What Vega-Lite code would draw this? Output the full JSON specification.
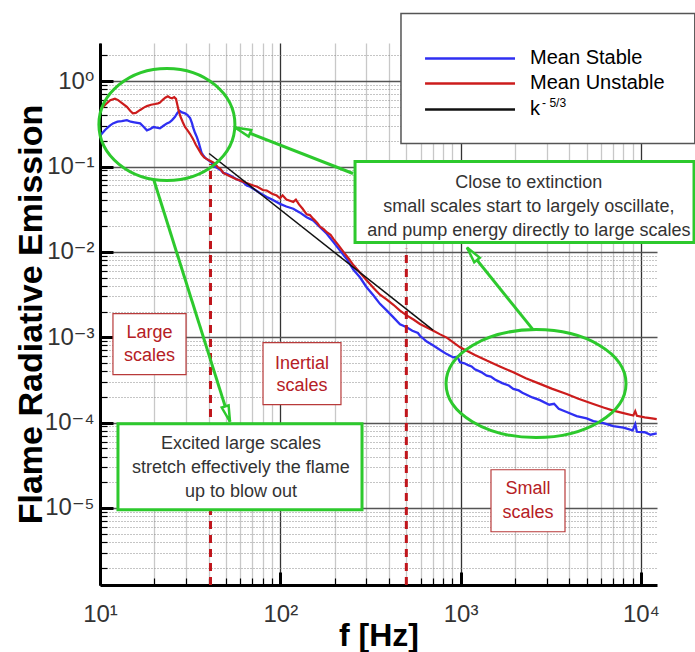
{
  "$schema": "https://vega.github.io/schema/vega-lite/v6.json",
  "width": 557,
  "height": 542,
  "autosize": {"type": "none"},
  "padding": {"left": 100, "top": 43, "right": 38, "bottom": 67},
  "config": {"view": {"stroke": null}, "font": "Liberation Sans"},
  "datasets": {
    "curves": [
      {"series": "Mean Stable", "f": 10, "e": 0.23}, {"series": "Mean Stable", "f": 10.7, "e": 0.27}, {"series": "Mean Stable", "f": 11.3, "e": 0.30}, {"series": "Mean Stable", "f": 11.8, "e": 0.32}, {"series": "Mean Stable", "f": 12.5, "e": 0.335}, {"series": "Mean Stable", "f": 13.2, "e": 0.34}, {"series": "Mean Stable", "f": 14.1, "e": 0.35}, {"series": "Mean Stable", "f": 14.8, "e": 0.335}, {"series": "Mean Stable", "f": 15.5, "e": 0.33}, {"series": "Mean Stable", "f": 16.7, "e": 0.32}, {"series": "Mean Stable", "f": 17.5, "e": 0.29}, {"series": "Mean Stable", "f": 18.2, "e": 0.265}, {"series": "Mean Stable", "f": 19.0, "e": 0.275}, {"series": "Mean Stable", "f": 19.8, "e": 0.29}, {"series": "Mean Stable", "f": 20.6, "e": 0.285}, {"series": "Mean Stable", "f": 21.5, "e": 0.28}, {"series": "Mean Stable", "f": 22.5, "e": 0.30}, {"series": "Mean Stable", "f": 23.5, "e": 0.32}, {"series": "Mean Stable", "f": 24.3, "e": 0.33}, {"series": "Mean Stable", "f": 25.1, "e": 0.35}, {"series": "Mean Stable", "f": 26.0, "e": 0.38}, {"series": "Mean Stable", "f": 26.8, "e": 0.42}, {"series": "Mean Stable", "f": 27.6, "e": 0.45}, {"series": "Mean Stable", "f": 28.5, "e": 0.43}, {"series": "Mean Stable", "f": 29.6, "e": 0.42}, {"series": "Mean Stable", "f": 30.6, "e": 0.40}, {"series": "Mean Stable", "f": 31.6, "e": 0.37}, {"series": "Mean Stable", "f": 32.4, "e": 0.32}, {"series": "Mean Stable", "f": 32.8, "e": 0.29}, {"series": "Mean Stable", "f": 33.6, "e": 0.25}, {"series": "Mean Stable", "f": 34.5, "e": 0.22}, {"series": "Mean Stable", "f": 35.3, "e": 0.19}, {"series": "Mean Stable", "f": 35.9, "e": 0.167}, {"series": "Mean Stable", "f": 36.6, "e": 0.145}, {"series": "Mean Stable", "f": 37.3, "e": 0.136}, {"series": "Mean Stable", "f": 38.5, "e": 0.125}, {"series": "Mean Stable", "f": 40.0, "e": 0.118}, {"series": "Mean Stable", "f": 41.5, "e": 0.112}, {"series": "Mean Stable", "f": 42.5, "e": 0.103}, {"series": "Mean Stable", "f": 44.0, "e": 0.098}, {"series": "Mean Stable", "f": 45.5, "e": 0.094}, {"series": "Mean Stable", "f": 47.0, "e": 0.090}, {"series": "Mean Stable", "f": 48.3, "e": 0.084}, {"series": "Mean Stable", "f": 50.4, "e": 0.082}, {"series": "Mean Stable", "f": 53, "e": 0.078}, {"series": "Mean Stable", "f": 56, "e": 0.073}, {"series": "Mean Stable", "f": 59.8, "e": 0.068}, {"series": "Mean Stable", "f": 62, "e": 0.066}, {"series": "Mean Stable", "f": 65.1, "e": 0.060}, {"series": "Mean Stable", "f": 68, "e": 0.058}, {"series": "Mean Stable", "f": 70.8, "e": 0.055}, {"series": "Mean Stable", "f": 77, "e": 0.049}, {"series": "Mean Stable", "f": 84.1, "e": 0.044}, {"series": "Mean Stable", "f": 90, "e": 0.041}, {"series": "Mean Stable", "f": 99.6, "e": 0.0365}, {"series": "Mean Stable", "f": 108, "e": 0.034}, {"series": "Mean Stable", "f": 118, "e": 0.032}, {"series": "Mean Stable", "f": 128, "e": 0.029}, {"series": "Mean Stable", "f": 140, "e": 0.0255}, {"series": "Mean Stable", "f": 152, "e": 0.0233}, {"series": "Mean Stable", "f": 166, "e": 0.0195}, {"series": "Mean Stable", "f": 181, "e": 0.0163}, {"series": "Mean Stable", "f": 197, "e": 0.0130}, {"series": "Mean Stable", "f": 214, "e": 0.0104}, {"series": "Mean Stable", "f": 234, "e": 0.0082}, {"series": "Mean Stable", "f": 254, "e": 0.0062}, {"series": "Mean Stable", "f": 277, "e": 0.0050}, {"series": "Mean Stable", "f": 301, "e": 0.00385}, {"series": "Mean Stable", "f": 328, "e": 0.0031}, {"series": "Mean Stable", "f": 357, "e": 0.00246}, {"series": "Mean Stable", "f": 390, "e": 0.00205}, {"series": "Mean Stable", "f": 424, "e": 0.00171}, {"series": "Mean Stable", "f": 461, "e": 0.00142}, {"series": "Mean Stable", "f": 502, "e": 0.00131}, {"series": "Mean Stable", "f": 540, "e": 0.00119}, {"series": "Mean Stable", "f": 580, "e": 0.00112}, {"series": "Mean Stable", "f": 595, "e": 0.00104}, {"series": "Mean Stable", "f": 649, "e": 0.00089}, {"series": "Mean Stable", "f": 706, "e": 0.00080}, {"series": "Mean Stable", "f": 770, "e": 0.00071}, {"series": "Mean Stable", "f": 838, "e": 0.000634}, {"series": "Mean Stable", "f": 910, "e": 0.00058}, {"series": "Mean Stable", "f": 960, "e": 0.00059}, {"series": "Mean Stable", "f": 993, "e": 0.000508}, {"series": "Mean Stable", "f": 1050, "e": 0.000495}, {"series": "Mean Stable", "f": 1100, "e": 0.00047}, {"series": "Mean Stable", "f": 1150, "e": 0.000455}, {"series": "Mean Stable", "f": 1200, "e": 0.00042}, {"series": "Mean Stable", "f": 1300, "e": 0.00039}, {"series": "Mean Stable", "f": 1396, "e": 0.000355}, {"series": "Mean Stable", "f": 1470, "e": 0.000345}, {"series": "Mean Stable", "f": 1550, "e": 0.00032}, {"series": "Mean Stable", "f": 1700, "e": 0.00029}, {"series": "Mean Stable", "f": 1850, "e": 0.000272}, {"series": "Mean Stable", "f": 1960, "e": 0.000248}, {"series": "Mean Stable", "f": 2100, "e": 0.000238}, {"series": "Mean Stable", "f": 2200, "e": 0.000224}, {"series": "Mean Stable", "f": 2500, "e": 0.000197}, {"series": "Mean Stable", "f": 2754, "e": 0.000183}, {"series": "Mean Stable", "f": 3100, "e": 0.000162}, {"series": "Mean Stable", "f": 3300, "e": 0.000166}, {"series": "Mean Stable", "f": 3500, "e": 0.000145}, {"series": "Mean Stable", "f": 3873, "e": 0.000133}, {"series": "Mean Stable", "f": 4400, "e": 0.000119}, {"series": "Mean Stable", "f": 5000, "e": 0.000112}, {"series": "Mean Stable", "f": 5445, "e": 0.000104}, {"series": "Mean Stable", "f": 6200, "e": 0.0000985}, {"series": "Mean Stable", "f": 7030, "e": 0.000091}, {"series": "Mean Stable", "f": 8000, "e": 0.000087}, {"series": "Mean Stable", "f": 9000, "e": 0.000081}, {"series": "Mean Stable", "f": 9300, "e": 0.000096}, {"series": "Mean Stable", "f": 9500, "e": 0.000078}, {"series": "Mean Stable", "f": 10500, "e": 0.000077}, {"series": "Mean Stable", "f": 11300, "e": 0.000072}, {"series": "Mean Stable", "f": 12240, "e": 0.0000745},
      {"series": "Mean Unstable", "f": 10, "e": 0.47}, {"series": "Mean Unstable", "f": 10.4, "e": 0.50}, {"series": "Mean Unstable", "f": 10.8, "e": 0.54}, {"series": "Mean Unstable", "f": 11.4, "e": 0.60}, {"series": "Mean Unstable", "f": 12.1, "e": 0.625}, {"series": "Mean Unstable", "f": 12.6, "e": 0.60}, {"series": "Mean Unstable", "f": 13.3, "e": 0.55}, {"series": "Mean Unstable", "f": 14.1, "e": 0.50}, {"series": "Mean Unstable", "f": 14.7, "e": 0.45}, {"series": "Mean Unstable", "f": 15.2, "e": 0.42}, {"series": "Mean Unstable", "f": 15.8, "e": 0.425}, {"series": "Mean Unstable", "f": 16.7, "e": 0.46}, {"series": "Mean Unstable", "f": 17.5, "e": 0.49}, {"series": "Mean Unstable", "f": 18.2, "e": 0.51}, {"series": "Mean Unstable", "f": 19.2, "e": 0.53}, {"series": "Mean Unstable", "f": 20.2, "e": 0.54}, {"series": "Mean Unstable", "f": 21.0, "e": 0.55}, {"series": "Mean Unstable", "f": 21.5, "e": 0.56}, {"series": "Mean Unstable", "f": 22.2, "e": 0.60}, {"series": "Mean Unstable", "f": 23.0, "e": 0.64}, {"series": "Mean Unstable", "f": 23.8, "e": 0.665}, {"series": "Mean Unstable", "f": 24.5, "e": 0.64}, {"series": "Mean Unstable", "f": 25.1, "e": 0.63}, {"series": "Mean Unstable", "f": 25.8, "e": 0.65}, {"series": "Mean Unstable", "f": 26.4, "e": 0.62}, {"series": "Mean Unstable", "f": 26.9, "e": 0.52}, {"series": "Mean Unstable", "f": 27.3, "e": 0.45}, {"series": "Mean Unstable", "f": 28.0, "e": 0.38}, {"series": "Mean Unstable", "f": 28.8, "e": 0.33}, {"series": "Mean Unstable", "f": 29.6, "e": 0.29}, {"series": "Mean Unstable", "f": 30.6, "e": 0.265}, {"series": "Mean Unstable", "f": 31.6, "e": 0.24}, {"series": "Mean Unstable", "f": 32.8, "e": 0.21}, {"series": "Mean Unstable", "f": 34.0, "e": 0.18}, {"series": "Mean Unstable", "f": 35.3, "e": 0.158}, {"series": "Mean Unstable", "f": 36.5, "e": 0.14}, {"series": "Mean Unstable", "f": 37.8, "e": 0.128}, {"series": "Mean Unstable", "f": 39.2, "e": 0.122}, {"series": "Mean Unstable", "f": 40.7, "e": 0.117}, {"series": "Mean Unstable", "f": 42.0, "e": 0.113}, {"series": "Mean Unstable", "f": 43.4, "e": 0.108}, {"series": "Mean Unstable", "f": 45, "e": 0.098}, {"series": "Mean Unstable", "f": 46.5, "e": 0.094}, {"series": "Mean Unstable", "f": 48.3, "e": 0.084}, {"series": "Mean Unstable", "f": 50.5, "e": 0.080}, {"series": "Mean Unstable", "f": 54, "e": 0.075}, {"series": "Mean Unstable", "f": 57, "e": 0.071}, {"series": "Mean Unstable", "f": 59.8, "e": 0.0685}, {"series": "Mean Unstable", "f": 65, "e": 0.064}, {"series": "Mean Unstable", "f": 70.8, "e": 0.060}, {"series": "Mean Unstable", "f": 75, "e": 0.0575}, {"series": "Mean Unstable", "f": 80, "e": 0.053}, {"series": "Mean Unstable", "f": 84.1, "e": 0.0524}, {"series": "Mean Unstable", "f": 90, "e": 0.048}, {"series": "Mean Unstable", "f": 95.5, "e": 0.0457}, {"series": "Mean Unstable", "f": 99.6, "e": 0.0425}, {"series": "Mean Unstable", "f": 103, "e": 0.046}, {"series": "Mean Unstable", "f": 108, "e": 0.041}, {"series": "Mean Unstable", "f": 112, "e": 0.040}, {"series": "Mean Unstable", "f": 118, "e": 0.0385}, {"series": "Mean Unstable", "f": 122, "e": 0.041}, {"series": "Mean Unstable", "f": 127, "e": 0.036}, {"series": "Mean Unstable", "f": 133, "e": 0.032}, {"series": "Mean Unstable", "f": 140, "e": 0.0275}, {"series": "Mean Unstable", "f": 146, "e": 0.027}, {"series": "Mean Unstable", "f": 152, "e": 0.0245}, {"series": "Mean Unstable", "f": 160, "e": 0.022}, {"series": "Mean Unstable", "f": 166, "e": 0.0198}, {"series": "Mean Unstable", "f": 174, "e": 0.0185}, {"series": "Mean Unstable", "f": 181, "e": 0.0170}, {"series": "Mean Unstable", "f": 190, "e": 0.0158}, {"series": "Mean Unstable", "f": 197, "e": 0.0142}, {"series": "Mean Unstable", "f": 210, "e": 0.0120}, {"series": "Mean Unstable", "f": 224, "e": 0.0100}, {"series": "Mean Unstable", "f": 240, "e": 0.0083}, {"series": "Mean Unstable", "f": 254, "e": 0.0070}, {"series": "Mean Unstable", "f": 277, "e": 0.0057}, {"series": "Mean Unstable", "f": 301, "e": 0.00465}, {"series": "Mean Unstable", "f": 328, "e": 0.0038}, {"series": "Mean Unstable", "f": 357, "e": 0.00315}, {"series": "Mean Unstable", "f": 390, "e": 0.00275}, {"series": "Mean Unstable", "f": 424, "e": 0.00240}, {"series": "Mean Unstable", "f": 461, "e": 0.00205}, {"series": "Mean Unstable", "f": 502, "e": 0.00180}, {"series": "Mean Unstable", "f": 550, "e": 0.00160}, {"series": "Mean Unstable", "f": 595, "e": 0.00143}, {"series": "Mean Unstable", "f": 650, "e": 0.00130}, {"series": "Mean Unstable", "f": 706, "e": 0.00119}, {"series": "Mean Unstable", "f": 770, "e": 0.00108}, {"series": "Mean Unstable", "f": 838, "e": 0.00099}, {"series": "Mean Unstable", "f": 993, "e": 0.000762}, {"series": "Mean Unstable", "f": 1200, "e": 0.00062}, {"series": "Mean Unstable", "f": 1396, "e": 0.000532}, {"series": "Mean Unstable", "f": 1650, "e": 0.000455}, {"series": "Mean Unstable", "f": 1960, "e": 0.000388}, {"series": "Mean Unstable", "f": 2300, "e": 0.000330}, {"series": "Mean Unstable", "f": 2754, "e": 0.000284}, {"series": "Mean Unstable", "f": 3200, "e": 0.000250}, {"series": "Mean Unstable", "f": 3873, "e": 0.000216}, {"series": "Mean Unstable", "f": 4500, "e": 0.000190}, {"series": "Mean Unstable", "f": 5445, "e": 0.000165}, {"series": "Mean Unstable", "f": 6200, "e": 0.000150}, {"series": "Mean Unstable", "f": 7030, "e": 0.000138}, {"series": "Mean Unstable", "f": 8000, "e": 0.000129}, {"series": "Mean Unstable", "f": 9078, "e": 0.000121}, {"series": "Mean Unstable", "f": 9300, "e": 0.000136}, {"series": "Mean Unstable", "f": 9500, "e": 0.000120}, {"series": "Mean Unstable", "f": 10500, "e": 0.000115}, {"series": "Mean Unstable", "f": 11500, "e": 0.000112}, {"series": "Mean Unstable", "f": 12240, "e": 0.000110}
    ]
  },
  "layer": [
    {
      "data": {"name": "curves"},
      "transform": [{"filter": "datum.series == 'Mean Stable'"}],
      "mark": {"type": "line", "strokeWidth": 2.3, "clip": true},
      "encoding": {
        "x": {
          "field": "f", "type": "quantitative",
          "scale": {"type": "log", "domain": [10, 12280], "nice": false},
          "axis": {
            "values": [10, 20, 30, 40, 50, 60, 70, 80, 90, 100, 200, 300, 400, 500, 600, 700, 800, 900, 1000, 2000, 3000, 4000, 5000, 6000, 7000, 8000, 9000, 10000],
            "labelExpr": "datum.value == 10 ? '10¹' : datum.value == 100 ? '10²' : datum.value == 1000 ? '10³' : datum.value == 10000 ? '10⁴' : ''",
            "labelFont": "Liberation Sans, DejaVu Sans", "labelFontSize": 24, "labelColor": "#333",
            "labelPadding": 30, "labelFlush": false, "labelOverlap": false, "labelBound": false,
            "title": "f [Hz]", "titleFont": "Liberation Sans", "titleFontSize": 32, "titleFontWeight": "bold", "titleColor": "black",
            "titleX": 278.5, "titleY": 60, "titleBaseline": "alphabetic", "titleAlign": "center",
            "domainColor": "black", "domainWidth": 3,
            "grid": true,
            "gridColor": {"condition": {"test": "indexof([10,100,1000,10000], datum.value) >= 0", "value": "#333333"}, "value": "#c8c8c8"},
            "gridWidth": 1.3,
            "tickColor": "black",
            "tickSize": {"condition": {"test": "indexof([10,100,1000,10000], datum.value) >= 0", "value": -13}, "value": -7},
            "tickWidth": {"condition": {"test": "indexof([10,100,1000,10000], datum.value) >= 0", "value": 3}, "value": 1.2}
          }
        },
        "y": {
          "field": "e", "type": "quantitative",
          "scale": {"type": "log", "domain": [1.25e-6, 2.8], "nice": false},
          "axis": {
            "values": [2e-6, 3e-6, 4e-6, 5e-6, 6e-6, 7e-6, 8e-6, 9e-6, 0.00001, 0.00002, 0.00003, 0.00004, 0.00005, 0.00006, 0.00007, 0.00008, 0.00009, 0.0001, 0.0002, 0.0003, 0.0004, 0.0005, 0.0006, 0.0007, 0.0008, 0.0009, 0.001, 0.002, 0.003, 0.004, 0.005, 0.006, 0.007, 0.008, 0.009, 0.01, 0.02, 0.03, 0.04, 0.05, 0.06, 0.07, 0.08, 0.09, 0.1, 0.2, 0.3, 0.4, 0.5, 0.6, 0.7, 0.8, 0.9, 1, 2],
            "labelExpr": "datum.value == 1 ? '10⁰' : datum.value == 0.1 ? '10⁻¹' : datum.value == 0.01 ? '10⁻²' : datum.value == 0.001 ? '10⁻³' : datum.value == 0.0001 ? '10⁻⁴' : datum.value == 0.00001 ? '10⁻⁵' : ''",
            "labelFont": "Liberation Sans, DejaVu Sans", "labelFontSize": 24, "labelColor": "#333",
            "labelPadding": 19, "labelFlush": false, "labelOverlap": false, "labelBound": false,
            "title": "Flame Radiative Emission", "titleFont": "Liberation Sans", "titleFontSize": 34, "titleFontWeight": "bold", "titleColor": "black",
            "titleX": -59, "titleY": 271, "titleAngle": -90, "titleBaseline": "alphabetic", "titleAlign": "center",
            "domainColor": "black", "domainWidth": 3,
            "grid": true,
            "gridColor": {"condition": {"test": "indexof([1,0.1,0.01,0.001,0.0001,0.00001], datum.value) >= 0", "value": "#555555"}, "value": "#8a8a8a"},
            "gridWidth": {"condition": {"test": "indexof([1,0.1,0.01,0.001,0.0001,0.00001], datum.value) >= 0", "value": 1.6}, "value": 1},
            "gridDash": {"condition": {"test": "indexof([1,0.1,0.01,0.001,0.0001,0.00001], datum.value) >= 0", "value": []}, "value": [1, 2]},
            "tickColor": "black",
            "tickSize": {"condition": {"test": "indexof([1,0.1,0.01,0.001,0.0001,0.00001], datum.value) >= 0", "value": -13}, "value": -7},
            "tickWidth": {"condition": {"test": "indexof([1,0.1,0.01,0.001,0.0001,0.00001], datum.value) >= 0", "value": 3}, "value": 1.2}
          }
        },
        "color": {
          "field": "series", "type": "nominal",
          "scale": {"domain": ["Mean Stable", "Mean Unstable", "k^-5/3"], "range": ["#2f2ff2", "#cc1c1c", "#111111"]},
          "legend": null
        }
      }
    },
    {
      "data": {"name": "curves"},
      "transform": [{"filter": "datum.series == 'Mean Unstable'"}],
      "mark": {"type": "line", "strokeWidth": 2.2, "clip": true},
      "encoding": {
        "x": {"field": "f", "type": "quantitative"},
        "y": {"field": "e", "type": "quantitative"},
        "color": {"field": "series", "type": "nominal"}
      }
    },
    {
      "data": {"values": [{"series": "k^-5/3", "f": 40.3, "e": 0.142}, {"series": "k^-5/3", "f": 703, "e": 0.00121}]},
      "mark": {"type": "line", "strokeWidth": 1.5},
      "encoding": {
        "x": {"field": "f", "type": "quantitative"},
        "y": {"field": "e", "type": "quantitative"},
        "color": {"field": "series", "type": "nominal"}
      }
    },
    {
      "data": {"values": [{"f": 41, "lo": 1.25e-6, "hi": 0.107}, {"f": 500, "lo": 1.25e-6, "hi": 0.0109}]},
      "mark": {"type": "rule", "color": "#c0161c", "strokeWidth": 3, "strokeDash": [8, 6]},
      "encoding": {
        "x": {"field": "f", "type": "quantitative"},
        "y": {"field": "lo", "type": "quantitative"},
        "y2": {"field": "hi"}
      }
    },
    {
      "data": {"values": [{"f": 23.5, "e": 0.311}]},
      "mark": {"type": "point", "shape": "M-1,0A1,0.8235 0 1,0 1,0A1,0.8235 0 1,0 -1,0Z", "size": 18496, "filled": false, "stroke": "#2dc92d", "strokeWidth": 3, "opacity": 1},
      "encoding": {
        "x": {"field": "f", "type": "quantitative"},
        "y": {"field": "e", "type": "quantitative"}
      }
    },
    {
      "data": {"values": [{"f": 2620, "e": 0.000286}]},
      "mark": {"type": "point", "shape": "M-1,0A1,0.6 0 1,0 1,0A1,0.6 0 1,0 -1,0Z", "size": 32400, "filled": false, "stroke": "#2dc92d", "strokeWidth": 3, "opacity": 1},
      "encoding": {
        "x": {"field": "f", "type": "quantitative"},
        "y": {"field": "e", "type": "quantitative"}
      }
    },
    {
      "data": {"values": [
        {"f1": 19.93, "e1": 0.0685, "f2": 52.6, "e2": 0.0001025},
        {"f1": 253, "e1": 0.0828, "f2": 56.1, "e2": 0.2866},
        {"f1": 2521, "e1": 0.001227, "f2": 1085, "e2": 0.01123}
      ]},
      "mark": {"type": "rule", "color": "#2dc92d", "strokeWidth": 3},
      "encoding": {
        "x": {"field": "f1", "type": "quantitative"},
        "y": {"field": "e1", "type": "quantitative"},
        "x2": {"field": "f2"},
        "y2": {"field": "e2"}
      }
    },
    {
      "data": {"values": [
        {"f1": 12.58, "f2": 283.9, "e1": 0.000097, "e2": 0.00000952},
        {"f1": 259.7, "f2": 19700, "e1": 0.1145, "e2": 0.01285}
      ]},
      "mark": {"type": "rect", "fill": "white", "stroke": "#2dc92d", "strokeWidth": 3},
      "encoding": {
        "x": {"field": "f1", "type": "quantitative"},
        "x2": {"field": "f2"},
        "y": {"field": "e1", "type": "quantitative"},
        "y2": {"field": "e2"}
      }
    },
    {
      "data": {"values": [
        {"f1": 11.8, "f2": 30.0, "e1": 0.001891, "e2": 0.000364},
        {"f1": 80.2, "f2": 217, "e1": 0.000864, "e2": 0.000162},
        {"f1": 1474, "f2": 3793, "e1": 0.000028, "e2": 0.00000526}
      ]},
      "mark": {"type": "rect", "fill": "white", "stroke": "#b83a3a", "strokeWidth": 1.2},
      "encoding": {
        "x": {"field": "f1", "type": "quantitative"},
        "x2": {"field": "f2"},
        "y": {"field": "e1", "type": "quantitative"},
        "y2": {"field": "e2"}
      }
    },
    {
      "data": {"values": [
        {"f1": 467, "f2": 19900, "e1": 6.22, "e2": 0.186}
      ]},
      "mark": {"type": "rect", "fill": "white", "stroke": "#555555", "strokeWidth": 1.5},
      "encoding": {
        "x": {"field": "f1", "type": "quantitative"},
        "x2": {"field": "f2"},
        "y": {"field": "e1", "type": "quantitative"},
        "y2": {"field": "e2"}
      }
    },
    {
      "data": {"values": [
        {"series": "Mean Stable", "f1": 635, "f2": 2003, "e": 1.845},
        {"series": "Mean Unstable", "f1": 635, "f2": 2003, "e": 0.9398},
        {"series": "k^-5/3", "f1": 635, "f2": 2003, "e": 0.4658}
      ]},
      "mark": {"type": "rule", "strokeWidth": 2.5},
      "encoding": {
        "x": {"field": "f1", "type": "quantitative"},
        "x2": {"field": "f2"},
        "y": {"field": "e", "type": "quantitative"},
        "color": {"field": "series", "type": "nominal"}
      }
    },
    {
      "data": {"values": [
        {"f": 2427, "e": 1.845, "t": "Mean Stable"},
        {"f": 2427, "e": 0.9398, "t": "Mean Unstable"},
        {"f": 2427, "e": 0.4658, "t": "k"}
      ]},
      "mark": {"type": "text", "font": "Liberation Sans", "fontSize": 20, "color": "black", "align": "left", "baseline": "middle"},
      "encoding": {
        "x": {"field": "f", "type": "quantitative"},
        "y": {"field": "e", "type": "quantitative"},
        "text": {"field": "t"}
      }
    },
    {
      "data": {"values": [
        {"f": 2830, "e": 0.55, "t": "- 5/3"}
      ]},
      "mark": {"type": "text", "font": "Liberation Sans", "fontSize": 12, "color": "black", "align": "left", "baseline": "middle"},
      "encoding": {
        "x": {"field": "f", "type": "quantitative"},
        "y": {"field": "e", "type": "quantitative"},
        "text": {"field": "t"}
      }
    },
    {
      "data": {"values": [
        {"f": 60.5, "e": 0.0000566, "t": "Excited large scales"},
        {"f": 60.5, "e": 0.0000296, "t": "stretch effectively the flame"},
        {"f": 60.5, "e": 0.0000155, "t": "up to blow out"},
        {"f": 2390, "e": 0.0649, "t": "Close to extinction"},
        {"f": 2390, "e": 0.0331, "t": "small scales start to largely oscillate,"},
        {"f": 2390, "e": 0.01778, "t": "and pump energy directly to large scales"}
      ]},
      "mark": {"type": "text", "font": "Liberation Sans", "fontSize": 18, "color": "#333333", "align": "center", "baseline": "middle"},
      "encoding": {
        "x": {"field": "f", "type": "quantitative"},
        "y": {"field": "e", "type": "quantitative"},
        "text": {"field": "t"}
      }
    },
    {
      "data": {"values": [
        {"f": 18.8, "e": 0.001132, "t": "Large"},
        {"f": 18.8, "e": 0.0006085, "t": "scales"},
        {"f": 132, "e": 0.00049, "t": "Inertial"},
        {"f": 132, "e": 0.000271, "t": "scales"},
        {"f": 2364, "e": 0.0000168, "t": "Small"},
        {"f": 2364, "e": 0.00000879, "t": "scales"}
      ]},
      "mark": {"type": "text", "font": "Liberation Sans", "fontSize": 18, "color": "#b52025", "align": "center", "baseline": "middle"},
      "encoding": {
        "x": {"field": "f", "type": "quantitative"},
        "y": {"field": "e", "type": "quantitative"},
        "text": {"field": "t"}
      }
    },
    {
      "data": {"values": [{"f": 51.0, "e": 0.0001258}]},
      "mark": {"type": "point", "shape": "M0,-1L0.45,1L-0.45,1Z", "size": 256, "angle": 162.5, "filled": true, "fill": "white", "stroke": "#2dc92d", "strokeWidth": 2.5, "opacity": 1},
      "encoding": {"x": {"field": "f", "type": "quantitative"}, "y": {"field": "e", "type": "quantitative"}}
    },
    {
      "data": {"values": [{"f": 61.7, "e": 0.265}]},
      "mark": {"type": "point", "shape": "M0,-1L0.45,1L-0.45,1Z", "size": 256, "angle": 291.3, "filled": true, "fill": "white", "stroke": "#2dc92d", "strokeWidth": 2.5, "opacity": 1},
      "encoding": {"x": {"field": "f", "type": "quantitative"}, "y": {"field": "e", "type": "quantitative"}}
    },
    {
      "data": {"values": [{"f": 1157, "e": 0.0095}]},
      "mark": {"type": "point", "shape": "M0,-1L0.45,1L-0.45,1Z", "size": 256, "angle": 321.2, "filled": true, "fill": "white", "stroke": "#2dc92d", "strokeWidth": 2.5, "opacity": 1},
      "encoding": {"x": {"field": "f", "type": "quantitative"}, "y": {"field": "e", "type": "quantitative"}}
    }
  ]
}
